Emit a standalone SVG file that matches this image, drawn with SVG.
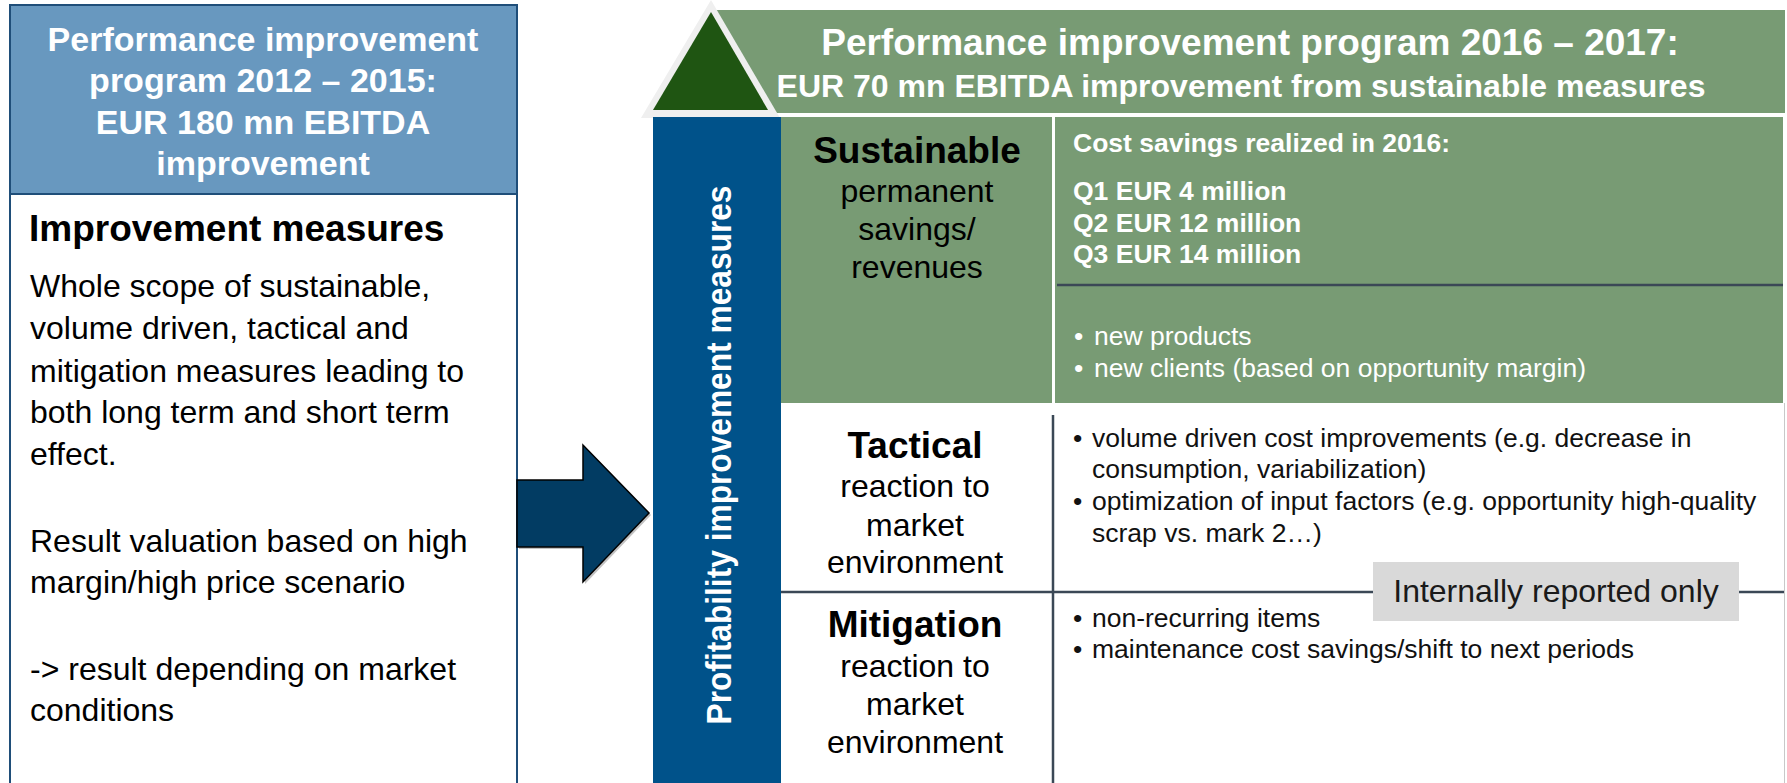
<svg xmlns="http://www.w3.org/2000/svg" width="1787" height="783" viewBox="0 0 1787 783">
  <style>
    text { font-family: "Liberation Sans", Arial, sans-serif; }
    .hdr { fill: #ffffff; font-weight: bold; text-anchor: middle; }
    .lbl { fill: #000000; text-anchor: middle; }
    .bold { font-weight: bold; }
    .body { fill: #000000; font-size: 32px; }
    .title { fill: #000000; font-size: 37px; font-weight: bold; }
    .wtxt { fill: #ffffff; font-size: 26.5px; }
    .btxt { fill: #111111; font-size: 26.5px; }
    .grid { stroke: #3b4856; stroke-width: 2.5; fill: none; }
  </style>

  <rect x="0" y="0" width="1787" height="783" fill="#ffffff"/>

  <!-- Left panel: programme 2012-2015 -->
  <g id="program-2012-2015">
    <rect x="10" y="5" width="507" height="790" fill="#ffffff" stroke="#1f4e79" stroke-width="2"/>
    <rect x="10" y="5" width="507" height="189" fill="#6898bf" stroke="#1f4e79" stroke-width="2"/>
    <text class="hdr" font-size="34" x="263" y="51">Performance improvement</text>
    <text class="hdr" font-size="34" x="263" y="92">program 2012 – 2015:</text>
    <text class="hdr" font-size="34" x="263" y="134">EUR 180 mn EBITDA</text>
    <text class="hdr" font-size="34" x="263" y="175">improvement</text>
    <text class="title" x="29" y="241">Improvement measures</text>
    <text class="body" x="30" y="297">Whole scope of sustainable,</text>
    <text class="body" x="30" y="339">volume driven, tactical and</text>
    <text class="body" x="30" y="382">mitigation measures leading to</text>
    <text class="body" x="30" y="423">both long term and short term</text>
    <text class="body" x="30" y="465">effect.</text>
    <text class="body" x="30" y="552">Result valuation based on high</text>
    <text class="body" x="30" y="593">margin/high price scenario</text>
    <text class="body" x="30" y="680">-&gt; result depending on market</text>
    <text class="body" x="30" y="721">conditions</text>
  </g>

  <!-- Transition arrow -->
  <g id="connectors">
    <polygon points="519,482 585,482 585,447 651,515 585,584 585,549 519,549" fill="#9a9a9a" opacity="0.6"/>
    <polygon points="517,480 583,480 583,445 649,513 583,582 583,547 517,547" fill="#023c63" stroke="#000000" stroke-width="1.5" stroke-linejoin="miter"/>
  </g>

  <!-- Right panel header: programme 2016-2017 -->
  <g id="program-2016-2017">
    <rect x="705" y="10" width="1080" height="103" fill="#789b74"/>
    <polygon points="711,0 641,118 780,118" fill="#efefef"/>
    <polygon points="711,12 653,110 768,110" fill="#1f5512"/>
    <text class="hdr" font-size="37" x="1250" y="55">Performance improvement program 2016 – 2017:</text>
    <text class="hdr" font-size="32" x="1241" y="97">EUR 70 mn EBITDA improvement from sustainable measures</text>
  </g>

  <!-- Vertical axis bar -->
  <g id="axis-bar">
    <rect x="653" y="117" width="128" height="666" fill="#00528a"/>
    <text fill="#ffffff" font-weight="bold" font-size="35" text-anchor="middle" textLength="539" lengthAdjust="spacingAndGlyphs" transform="translate(731,455) rotate(-90)">Profitability improvement measures</text>
  </g>

  <!-- Sustainable row -->
  <g id="row-sustainable">
    <rect x="781" y="117" width="1002" height="286" fill="#789b74"/>
    <line x1="1053.5" y1="117" x2="1053.5" y2="403" stroke="#ffffff" stroke-width="3"/>
    <line x1="1057" y1="285" x2="1783" y2="285" stroke="#3b4856" stroke-width="2.5"/>
    <text class="lbl bold" font-size="37" x="917" y="163">Sustainable</text>
    <text class="lbl" font-size="32" x="917" y="202">permanent</text>
    <text class="lbl" font-size="32" x="917" y="240">savings/</text>
    <text class="lbl" font-size="32" x="917" y="278">revenues</text>
    <text class="wtxt bold" x="1073" y="152">Cost savings realized in 2016:</text>
    <text class="wtxt bold" x="1073" y="200">Q1 EUR 4 million</text>
    <text class="wtxt bold" x="1073" y="232">Q2 EUR 12 million</text>
    <text class="wtxt bold" x="1073" y="263">Q3 EUR 14 million</text>
    <text class="wtxt" fill="#f2f2f2" x="1074" y="345">•</text>
    <text class="wtxt" fill="#f2f2f2" x="1094" y="345">new products</text>
    <text class="wtxt" fill="#f2f2f2" x="1074" y="377">•</text>
    <text class="wtxt" fill="#f2f2f2" x="1094" y="377">new clients (based on opportunity margin)</text>
  </g>

  <!-- Tactical and mitigation rows -->
  <g id="row-grid">
    <line class="grid" x1="1053" y1="415" x2="1053" y2="783"/>
    <line class="grid" x1="781" y1="592" x2="1373" y2="592"/>
    <line class="grid" x1="1739" y1="592" x2="1785" y2="592"/>
    <line x1="1784.5" y1="403" x2="1784.5" y2="783" stroke="#c8c8c8" stroke-width="1"/>
  </g>

  <g id="row-tactical">
    <text class="lbl bold" font-size="37" x="915" y="458">Tactical</text>
    <text class="lbl" font-size="32" x="915" y="497">reaction to</text>
    <text class="lbl" font-size="32" x="915" y="536">market</text>
    <text class="lbl" font-size="32" x="915" y="573">environment</text>
    <text class="btxt" x="1073" y="447">•</text>
    <text class="btxt" x="1092" y="447">volume driven cost improvements (e.g. decrease in</text>
    <text class="btxt" x="1092" y="478">consumption, variabilization)</text>
    <text class="btxt" x="1073" y="510">•</text>
    <text class="btxt" x="1092" y="510">optimization of input factors (e.g. opportunity high-quality</text>
    <text class="btxt" x="1092" y="542">scrap vs. mark 2…)</text>
  </g>

  <g id="row-mitigation">
    <text class="lbl bold" font-size="37" x="915" y="637">Mitigation</text>
    <text class="lbl" font-size="32" x="915" y="677">reaction to</text>
    <text class="lbl" font-size="32" x="915" y="715">market</text>
    <text class="lbl" font-size="32" x="915" y="753">environment</text>
    <text class="btxt" x="1073" y="627">•</text>
    <text class="btxt" x="1092" y="627">non-recurring items</text>
    <text class="btxt" x="1073" y="658">•</text>
    <text class="btxt" x="1092" y="658">maintenance cost savings/shift to next periods</text>
  </g>

  <!-- Note badge -->
  <g id="note-internal">
    <rect x="1373" y="562" width="366" height="59" fill="#d9d9d9"/>
    <text fill="#1a1a1a" font-size="32" text-anchor="middle" x="1556" y="602">Internally reported only</text>
  </g>
</svg>
